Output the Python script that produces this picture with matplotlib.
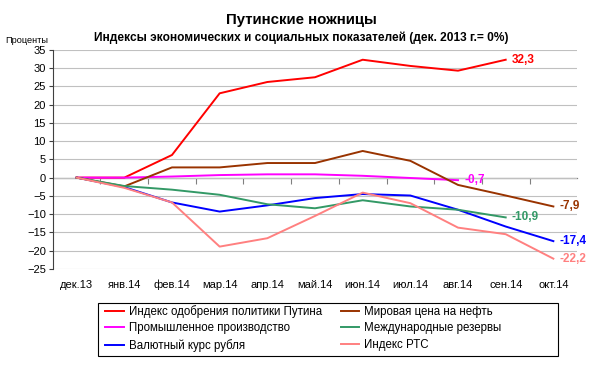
import numpy as np
import matplotlib
matplotlib.use("Agg")
import matplotlib.pyplot as plt
from matplotlib.patches import Rectangle

plt.rcParams['font.family'] = ['Liberation Sans', 'DejaVu Sans']

# Месяцы
months = ["дек.13", "янв.14", "фев.14", "мар.14", "апр.14", "май.14",
          "июн.14", "июл.14", "авг.14", "сен.14", "окт.14"]
nan = np.nan

# Индексы (дек. 2013 = 0%)
putin = [0, 0, 6.2, 23.1, 26.2, 27.5, 32.3, 30.6, 29.3, 32.3, nan]
oil = [0, -2.4, 2.8, 2.8, 4.0, 4.0, 7.3, 4.6, -2.0, -4.9, -7.9]
industry = [0, 0, 0.3, 0.7, 0.9, 0.9, 0.5, -0.1, -0.7, nan, nan]
reserves = [0, -2.3, -3.3, -4.7, -7.3, -8.4, -6.2, -7.9, -8.8, -10.9, nan]
ruble = [0, -2.6, -6.8, -9.3, -7.6, -5.6, -4.5, -4.9, -8.8, -13.4, -17.4]
rts = [0, -2.8, -6.8, -18.9, -16.6, -10.5, -4.1, -7.0, -13.7, -15.5, -22.2]

series = [
    ("Индекс одобрения политики Путина", putin, "#FF0000"),
    ("Промышленное производство", industry, "#FF00FF"),
    ("Валютный курс рубля", ruble, "#0000FF"),
    ("Мировая цена на нефть", oil, "#993300"),
    ("Международные резервы", reserves, "#339966"),
    ("Индекс РТС", rts, "#FF8080"),
]

fig = plt.figure(figsize=(6, 3.75), dpi=100)
ax = fig.add_axes([0.088, 0.283, 0.874, 0.584])

x = np.arange(len(months))
ymin, ymax = -25, 35

for name, vals, col in series:
    ax.plot(x, vals, color=col, lw=1.4, label=name, zorder=3)

# подписи последних значений
def end_label(vals, col):
    v = np.array(vals, dtype=float)
    i = np.where(~np.isnan(v))[0][-1]
    ax.annotate(f"{v[i]:.1f}".replace(".", ","), (x[i], v[i]),
                xytext=(4.5, 0), textcoords="offset points", va="center",
                ha="left", color=col, fontsize=8.5, fontweight="bold", zorder=4)

for name, vals, col in series:
    end_label(vals, col)

ax.set_xlim(-0.5, len(months) - 0.5)
ax.set_ylim(ymin, ymax)
ax.set_yticks(np.arange(ymin, ymax + 1, 5))
ax.yaxis.grid(True, color="#C0C0C0", lw=0.8)
ax.set_axisbelow(True)
ax.tick_params(axis="y", labelsize=8, length=3, color="#404040", pad=2)

for s in ["top", "right", "bottom"]:
    ax.spines[s].set_visible(False)
ax.spines["left"].set_color("#404040")
ax.spines["left"].set_linewidth(0.8)

# подписи месяцев внизу
ax.set_xticks(x)
ax.set_xticklabels(months, fontsize=8)
ax.tick_params(axis="x", length=0, pad=8)

# ось категорий на нуле
zero_frac = (0 - ymin) / (ymax - ymin)
sec = ax.secondary_xaxis(zero_frac)
sec.set_xticks(np.arange(0.5, len(months) - 0.5, 1))
sec.set_xticklabels([])
sec.tick_params(length=4, color="#808080", direction="out")
sec.spines["bottom"].set_color("#808080")
sec.spines["bottom"].set_linewidth(0.9)

fig.text(0.503, 0.935, "Путинские ножницы", ha="center", fontsize=10.8,
         fontweight="bold")
fig.text(0.502, 0.89, "Индексы экономических и социальных показателей (дек. 2013 г.= 0%)",
         ha="center", fontsize=8.6, fontweight="bold")
fig.text(0.08, 0.885, "Проценты", ha="right", fontsize=6.6)

leg = fig.legend(loc="upper left", bbox_to_anchor=(0.168, 0.2),
                 ncol=2, fontsize=8.3, handlelength=1.6,
                 handletextpad=0.45, labelspacing=0.42, borderaxespad=0,
                 columnspacing=1.6, frameon=False)
fig.patches.append(Rectangle((0.163, 0.051), 0.767, 0.141,
                             transform=fig.transFigure, fill=False,
                             edgecolor="black", lw=0.8))

fig.savefig("out.png", dpi=100)
